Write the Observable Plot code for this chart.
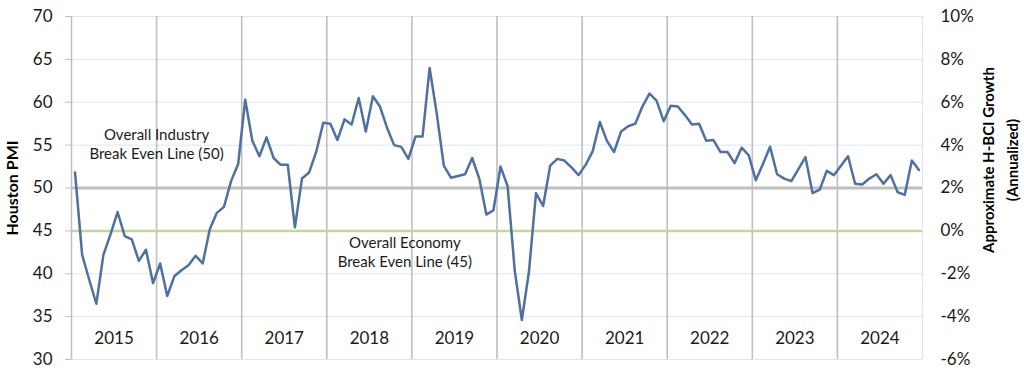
<!DOCTYPE html>
<html><head><meta charset="utf-8">
<script src="https://cdn.jsdelivr.net/npm/d3@7"></script>
<script src="https://cdn.jsdelivr.net/npm/@observablehq/plot@0.6"></script>
<style>body{margin:0;background:#fff;}</style>
</head><body><div id="chart"></div>
<script>
const years = [2015, 2016, 2017, 2018, 2019, 2020, 2021, 2022, 2023, 2024];
const pmi = [
  51.8, 42.2, 39.3, 36.5, 42.2, 44.6, 47.2, 44.4, 44.0, 41.5, 42.8, 38.9,
  41.2, 37.4, 39.7, 40.4, 41.0, 42.1, 41.2, 45.2, 47.1, 47.8, 50.8, 52.8,
  60.3, 55.5, 53.7, 55.9, 53.5, 52.7, 52.7, 45.4, 51.1, 51.8, 54.2, 57.6,
  57.5, 55.6, 58.0, 57.4, 60.5, 56.6, 60.7, 59.5, 57.0, 55.0, 54.8, 53.4,
  56.0, 56.0, 64.0, 58.7, 52.6, 51.2, 51.4, 51.6, 53.5, 51.1, 46.9, 47.4,
  52.5, 50.2, 40.4, 34.6, 40.2, 49.4, 47.9, 52.6, 53.4, 53.2, 52.4, 51.5,
  52.7, 54.3, 57.7, 55.5, 54.2, 56.6, 57.2, 57.5, 59.5, 61.0, 60.2, 57.8,
  59.6, 59.5, 58.5, 57.4, 57.5, 55.5, 55.6, 54.2, 54.2, 52.9, 54.7, 53.8,
  50.9, 52.8, 54.8, 51.6, 51.1, 50.8, 52.2, 53.6, 49.4, 49.8, 52.0, 51.5,
  52.6, 53.7, 50.5, 50.4, 51.1, 51.6, 50.5, 51.5, 49.5, 49.2, 53.2, 52.1
];
const leftTicks = [30, 35, 40, 45, 50, 55, 60, 65, 70];
const rightTickLabels = ["-6%", "-4%", "-2%", "0%", "2%", "4%", "6%", "8%", "10%"];
const industryLine = 50;
const economyLine = 45;
const industryLabel = "Overall Industry\nBreak Even Line (50)";
const economyLabel = "Overall Economy\nBreak Even Line (45)";
const leftTitle = "Houston PMI";
const rightTitle = "Approximate H-BCI Growth\n(Annualized)";

const data = pmi.map((v, i) => ({m: i + 0.5, v}));
const boundaries = years.slice(1).map((y, k) => (k + 1) * 12);
const yearLabels = years.map((y, k) => ({m: k * 12 + 6, label: String(y)}));

const font = "Lato, 'Open Sans', sans-serif";
const chart = Plot.plot({
  width: 1024, height: 373,
  marginLeft: 71, marginRight: 102, marginTop: 16, marginBottom: 14,
  style: {fontFamily: font, background: "#fff", overflow: "visible"},
  x: {domain: [0, 120], axis: null},
  y: {domain: [30, 70], axis: null},
  marks: [
    Plot.ruleY(leftTicks, {stroke: "#dce6f2", strokeWidth: 1}),
    Plot.ruleX([120], {y1: 30, y2: 70, stroke: "#dce6f2", strokeWidth: 1}),
    Plot.ruleX(boundaries, {y1: 30, y2: 70, stroke: "#bfbfbf", strokeWidth: 1.6}),
    Plot.ruleY([industryLine], {stroke: "#bfbfbf", strokeWidth: 3}),
    Plot.ruleY([economyLine], {stroke: "#c3d69b", strokeWidth: 2.5}),
    Plot.ruleX([0], {y1: 30, y2: 70, stroke: "#bfbfbf", strokeWidth: 1.5}),
    Plot.axisY({ticks: leftTicks, anchor: "left", tickSize: 6, tickPadding: 13,
      stroke: "#bfbfbf", fill: "#1a1a1a", fontSize: 17, label: null}),
    Plot.axisY({ticks: leftTicks, anchor: "right", tickSize: 0, tickPadding: 18,
      tickFormat: d => rightTickLabels[leftTicks.indexOf(d)],
      fill: "#1a1a1a", fontSize: 17, label: null}),
    Plot.line(data, {x: "m", y: "v", stroke: "#50709f", strokeWidth: 2.5}),
    Plot.text(yearLabels, {x: "m", y: 32.45, text: "label", fontSize: 17, fill: "#1a1a1a"}),
    Plot.text([industryLabel], {x: 12, y: 55.2, fontSize: 15, lineHeight: 1.3, fill: "#1a1a1a"}),
    Plot.text([economyLabel], {x: 47, y: 42.6, fontSize: 15, lineHeight: 1.3, fill: "#1a1a1a"}),
    Plot.text([leftTitle], {frameAnchor: "left", textAnchor: "middle", dx: -59, rotate: -90, fontWeight: "bold", fontSize: 16, fill: "#000"}),
    Plot.text([rightTitle], {frameAnchor: "right", textAnchor: "middle", dx: 76, dy: -28, rotate: -90, fontWeight: "bold", fontSize: 15, lineHeight: 1.6, fill: "#000"})
  ]
});
document.getElementById("chart").appendChild(chart);
</script>
</body></html>
